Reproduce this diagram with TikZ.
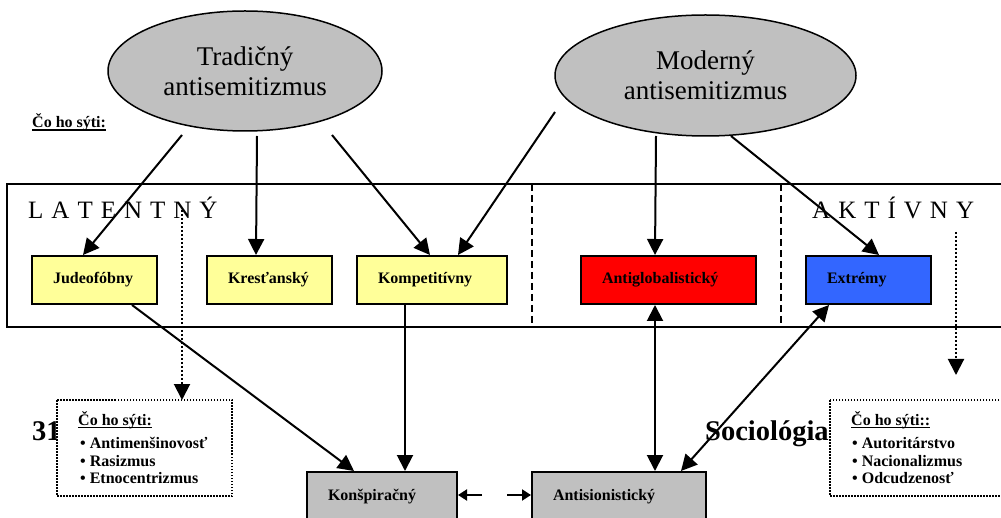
\documentclass[tikz,border=0pt]{standalone}
\usepackage{fontspec}
\setmainfont{Liberation Serif}
\usetikzlibrary{arrows.meta,shapes.geometric,calc}
\definecolor{ovalgray}{HTML}{C0C0C0}
\definecolor{boxyellow}{HTML}{FFFF99}
\definecolor{boxred}{HTML}{FF0000}
\definecolor{boxblue}{HTML}{3366FF}
\newcommand\myul[1]{\setbox0\hbox{#1}\rlap{\rule[-3pt]{\wd0}{1.5pt}}\box0}
\begin{document}
\begin{tikzpicture}[x=1pt,y=-1pt,
  arr/.style={line width=2pt,-{Triangle[length=16pt,width=16pt]}},
  darr/.style={line width=2pt,{Triangle[length=16pt,width=16pt]}-{Triangle[length=16pt,width=16pt]}},
  sarr/.style={line width=2pt,-{Triangle[length=9pt,width=11pt]}},
  dotarr/.style={line width=2pt,dash pattern=on 2pt off 2pt,-{Triangle[length=16pt,width=16pt]}},
  cat/.style={draw,line width=2pt,minimum height=48pt,inner xsep=21pt,inner ysep=0pt,align=left,
    font=\fontsize{16}{18}\selectfont\bfseries},
  oval/.style={ellipse,draw,line width=1.5pt,fill=ovalgray,inner sep=0pt,align=center,
    font=\fontsize{27}{30}\selectfont},
  spaced/.style={anchor=base west,inner sep=0pt,font=\fontsize{25}{28}\selectfont},
  small/.style={anchor=base west,inner sep=0pt,font=\fontsize{16}{18}\selectfont\bfseries},
  big/.style={anchor=base west,inner sep=0pt,font=\fontsize{28.5}{32}\selectfont\bfseries},
  dotbox/.style={draw,line width=1.5pt,dash pattern=on 1.5pt off 1.5pt,fill=white},
  sep/.style={line width=1.5pt,dash pattern=on 7pt off 4pt},
  frame/.style={draw,line width=2pt}
]
\useasboundingbox (0,0) rectangle (1001,518);

% main frame
\draw[frame] (1012,184) -- (7,184) -- (7,327) -- (1012,327);
\draw[sep] (532,184) -- (532,327);
\draw[sep] (781,184) -- (781,327);

% ellipses
\node[oval,minimum width=274pt,minimum height=120pt] (trad) at (245,71) {Tradičný\\antisemitizmus};
\node[oval,minimum width=301pt,minimum height=121pt] (mod) at (705.5,75.5) {Moderný\\antisemitizmus};

% labels
\node[small] (cotop) at (32,128) {\myul{Čo ho sýti:}};
\node[spaced] (lat) at (28,219) {\spaceskip=8pt L A T E N T N Ý};
\node[spaced] (akt) at (812,219) {\spaceskip=8pt A K T Í V N Y};

% category boxes
\node[cat,fill=boxyellow,text width=83pt] (jud) at (94.5,280) {Judeofóbny};
\node[cat,fill=boxyellow,text width=83pt] (kre) at (269.5,280) {Kresťanský};
\node[cat,fill=boxyellow,text width=108pt] (kom) at (432,280) {Kompetitívny};
\node[cat,fill=boxred,text width=133pt] (ant) at (668.5,280) {Antiglobalistický};
\node[cat,fill=boxblue,text width=83pt] (ext) at (868.5,280) {Extrémy};
\node[cat,fill=ovalgray,text width=108pt,minimum height=50pt] (kon) at (382,497) {Konšpiračný};
\node[cat,fill=ovalgray,text width=132pt,minimum height=50pt] (asi) at (619,497) {Antisionistický};

% big texts
\node[big] (num) at (32,440) {31};
\node[big] (soc) at (705,440) {Sociológia};

% dotted boxes
\draw[dotbox] (57,400) rectangle (232,496);
\draw[dotbox] (830,400) rectangle (1012,496);
\node[small] (c1) at (78,425) {\myul{Čo ho sýti:}};
\node[small] (c1a) at (80,448) {• Antimenšinovosť};
\node[small] (c1b) at (80,466) {• Rasizmus};
\node[small] (c1c) at (80,483) {• Etnocentrizmus};
\node[small] (c2) at (851,425) {\myul{Čo ho sýti::}};
\node[small] (c2a) at (852,448) {• Autoritárstvo};
\node[small] (c2b) at (852,466) {• Nacionalizmus};
\node[small] (c2c) at (852,483) {• Odcudzenosť};

% start coordinates
\coordinate (s1) at (182,135);
\coordinate (s2) at (257,136);
\coordinate (s3) at (332,135);
\coordinate (s4) at (555,112);
\coordinate (s5) at (656,136);
\coordinate (s6) at (731,136);
\coordinate (d1) at (182,210);
\coordinate (d1e) at (182,400);
\coordinate (d2) at (956,232);
\coordinate (d2e) at (956,375);
\coordinate (m1) at (482,495);
\coordinate (m2) at (507,495);

% arrows
\draw[arr] (s1) -- ($(jud.north west)+(52,0)$);
\draw[arr] (s2) -- ($(kre.north west)+(50,0)$);
\draw[arr] (s3) -- ($(kom.north west)+(74,0)$);
\draw[arr] (s4) -- ($(kom.north west)+(102,0)$);
\draw[arr] (s5) -- ($(ant.north west)+(75,0)$);
\draw[arr] (s6) -- ($(ext.north west)+(74,0)$);
\draw[arr] ($(jud.south west)+(101,0)$) -- ($(kon.north west)+(48,0)$);
\draw[arr] ($(kom.south west)+(49,0)$) -- ($(kon.north west)+(99,0)$);
\draw[darr] ($(ant.south west)+(75,0)$) -- ($(asi.north west)+(124,0)$);
\draw[darr] ($(ext.south west)+(24,0)$) -- ($(asi.north west)+(150,0)$);
\draw[sarr] (m1) -- (kon.east |- m1);
\draw[sarr] (m2) -- (asi.west |- m2);
\draw[dotarr] (d1) -- (d1e);
\draw[dotarr] (d2) -- (d2e);
\end{tikzpicture}
\end{document}
